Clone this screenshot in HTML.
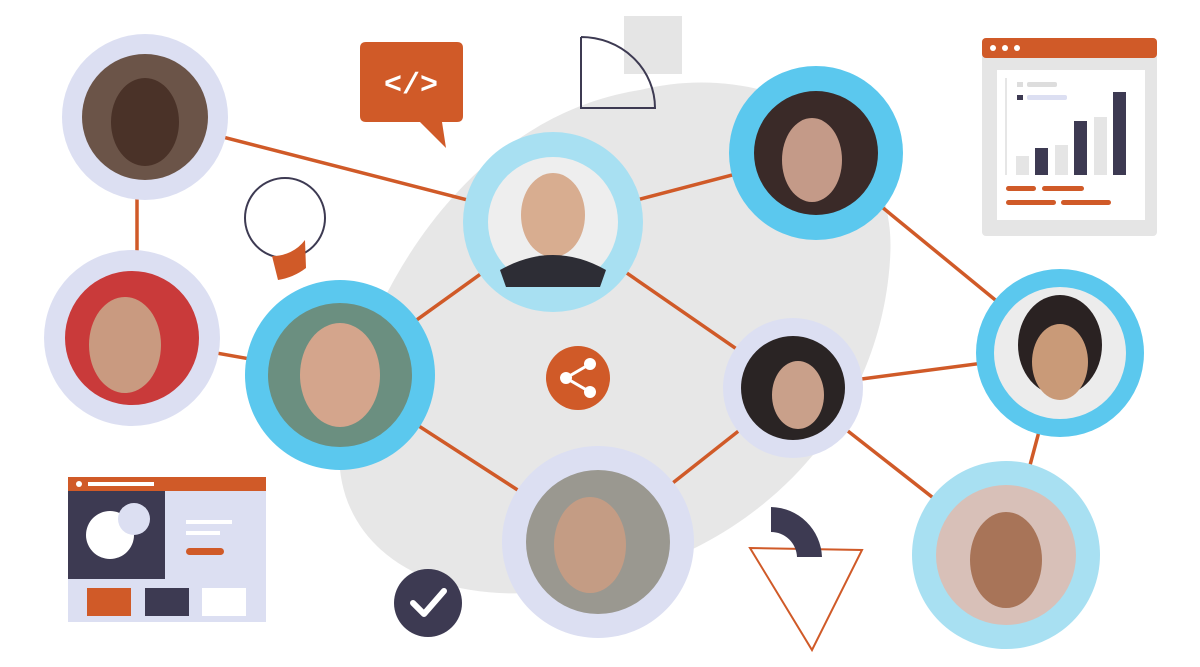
<!DOCTYPE html>
<html><head><style>
html,body{margin:0;padding:0;background:#fff;width:1200px;height:667px;overflow:hidden}
svg{display:block}
</style></head><body>
<svg width="1200" height="667" viewBox="0 0 1200 667" xmlns="http://www.w3.org/2000/svg">
<path d="M640 90 C760 60 900 120 890 260 C880 420 760 560 560 590 C420 610 330 540 340 440 C350 330 450 120 640 90 Z" fill="#e7e7e7"/>
<rect x="624" y="16" width="58" height="58" fill="#e5e5e5"/>
<path d="M581 37 L581 108 L655 108 A74 71 0 0 0 581 37" fill="none" stroke="#3d3a52" stroke-width="2"/>
<g stroke="#d05a28" stroke-width="3.5" fill="none">
<line x1="145" y1="117" x2="553" y2="222"/>
<line x1="137" y1="117" x2="137" y2="338"/>
<line x1="132" y1="338" x2="340" y2="375"/>
<line x1="340" y1="375" x2="553" y2="222"/>
<line x1="553" y1="222" x2="816" y2="153"/>
<line x1="553" y1="222" x2="793" y2="388"/>
<line x1="340" y1="375" x2="598" y2="542"/>
<line x1="598" y1="542" x2="793" y2="388"/>
<line x1="793" y1="388" x2="1060" y2="353"/>
<line x1="816" y1="153" x2="1060" y2="353"/>
<line x1="793" y1="388" x2="1006" y2="555"/>
<line x1="1060" y1="353" x2="1006" y2="555"/>
</g>
<path d="M366 42 H457 Q463 42 463 48 V116 Q463 122 457 122 H442 L446 148 L420 122 H366 Q360 122 360 116 V48 Q360 42 366 42 Z" fill="#d05a28"/>
<text x="411" y="93" font-family="Liberation Mono, monospace" font-size="30" font-weight="bold" fill="#fff" text-anchor="middle">&lt;/&gt;</text>
<circle cx="285" cy="218" r="40" fill="none" stroke="#3d3a52" stroke-width="2"/>
<path d="M305 240 A40 40 0 0 1 272 256 L278 280 A62 62 0 0 0 306 268 Z" fill="#d05a28"/>
<rect x="982" y="38" width="175" height="198" rx="4" fill="#e5e5e5"/>
<rect x="982" y="38" width="175" height="20" rx="4" fill="#d05a28"/>
<circle cx="993" cy="48" r="3" fill="#fff"/><circle cx="1005" cy="48" r="3" fill="#fff"/><circle cx="1017" cy="48" r="3" fill="#fff"/>
<rect x="997" y="70" width="148" height="150" fill="#fff"/>
<line x1="1006" y1="78" x2="1006" y2="175" stroke="#ccc" stroke-width="1"/>
<rect x="1017" y="82" width="6" height="5" fill="#ddd"/><rect x="1027" y="82" width="30" height="5" fill="#ddd" rx="2"/>
<rect x="1017" y="95" width="6" height="5" fill="#3d3a52"/><rect x="1027" y="95" width="40" height="5" fill="#dcdff2" rx="2"/>
<rect x="1016" y="156" width="13" height="19" fill="#e5e5e5"/><rect x="1035" y="148" width="13" height="27" fill="#3d3a52"/>
<rect x="1055" y="145" width="13" height="30" fill="#e5e5e5"/><rect x="1074" y="121" width="13" height="54" fill="#3d3a52"/>
<rect x="1094" y="117" width="13" height="58" fill="#e5e5e5"/><rect x="1113" y="92" width="13" height="83" fill="#3d3a52"/>
<rect x="1006" y="186" width="30" height="5" rx="2.5" fill="#d05a28"/><rect x="1042" y="186" width="42" height="5" rx="2.5" fill="#d05a28"/>
<rect x="1006" y="200" width="50" height="5" rx="2.5" fill="#d05a28"/><rect x="1061" y="200" width="50" height="5" rx="2.5" fill="#d05a28"/>
<rect x="68" y="477" width="198" height="145" fill="#dcdff2"/>
<rect x="68" y="477" width="198" height="14" fill="#d05a28"/>
<circle cx="79" cy="484" r="3" fill="#fff"/><rect x="88" y="482" width="66" height="4" fill="#fff"/>
<rect x="68" y="491" width="97" height="88" fill="#3d3a52"/>
<circle cx="110" cy="535" r="24" fill="#fff"/><circle cx="134" cy="519" r="16" fill="#dcdff2"/>
<rect x="186" y="520" width="46" height="4" fill="#fff"/><rect x="186" y="531" width="34" height="4" fill="#fff"/>
<rect x="186" y="548" width="38" height="7" rx="3.5" fill="#d05a28"/>
<rect x="87" y="588" width="44" height="28" fill="#d05a28"/><rect x="145" y="588" width="44" height="28" fill="#3d3a52"/><rect x="202" y="588" width="44" height="28" fill="#fff"/>
<path d="M750 548 L862 550 L812 650 Z" fill="none" stroke="#d05a28" stroke-width="2"/>
<path d="M771 507 A52 52 0 0 1 822 557 L797 557 A26 26 0 0 0 771 532 Z" fill="#3d3a52"/>
<circle cx="428" cy="603" r="34" fill="#3d3a52"/>
<path d="M413 603 L424 614 L444 591" fill="none" stroke="#fff" stroke-width="6" stroke-linecap="round" stroke-linejoin="round"/>
<circle cx="578" cy="378" r="32" fill="#d05a28"/>
<g fill="#fff"><circle cx="590" cy="364" r="6"/><circle cx="566" cy="378" r="6"/><circle cx="590" cy="392" r="6"/></g>
<path d="M590 364 L566 378 L590 392" stroke="#fff" stroke-width="3" fill="none"/>
<g>
<circle cx="145" cy="117" r="83" fill="#dcdff2"/><circle cx="145" cy="117" r="63" fill="#6b5448"/><ellipse cx="145" cy="122" rx="34" ry="44" fill="#4a3228"/>
<circle cx="132" cy="338" r="88" fill="#dcdff2"/><circle cx="132" cy="338" r="67" fill="#c93a3a"/><ellipse cx="125" cy="345" rx="36" ry="48" fill="#c99a80"/>
<circle cx="340" cy="375" r="95" fill="#5bc8ee"/><circle cx="340" cy="375" r="72" fill="#6b8f80"/><ellipse cx="340" cy="375" rx="40" ry="52" fill="#d4a58c"/>
<circle cx="553" cy="222" r="90" fill="#a8e0f2"/><circle cx="553" cy="222" r="65" fill="#eeeeee"/><ellipse cx="553" cy="215" rx="32" ry="42" fill="#d8ad90"/><path d="M500 270 Q553 240 606 270 L600 287 L506 287 Z" fill="#2d2d35"/>
<circle cx="816" cy="153" r="87" fill="#5bc8ee"/><circle cx="816" cy="153" r="62" fill="#3a2a28"/><ellipse cx="812" cy="160" rx="30" ry="42" fill="#c49a88"/>
<circle cx="793" cy="388" r="70" fill="#dcdff2"/><circle cx="793" cy="388" r="52" fill="#2a2424"/><ellipse cx="798" cy="395" rx="26" ry="34" fill="#c9a08a"/>
<circle cx="1060" cy="353" r="84" fill="#5bc8ee"/><circle cx="1060" cy="353" r="66" fill="#ececec"/><ellipse cx="1060" cy="345" rx="42" ry="50" fill="#2a2222"/><ellipse cx="1060" cy="362" rx="28" ry="38" fill="#c99a78"/>
<circle cx="598" cy="542" r="96" fill="#dcdff2"/><circle cx="598" cy="542" r="72" fill="#9a9890"/><ellipse cx="590" cy="545" rx="36" ry="48" fill="#c49c84"/>
<circle cx="1006" cy="555" r="94" fill="#a8e0f2"/><circle cx="1006" cy="555" r="70" fill="#d8c0b8"/><ellipse cx="1006" cy="560" rx="36" ry="48" fill="#a87458"/>
</g>
</svg>
</body></html>
